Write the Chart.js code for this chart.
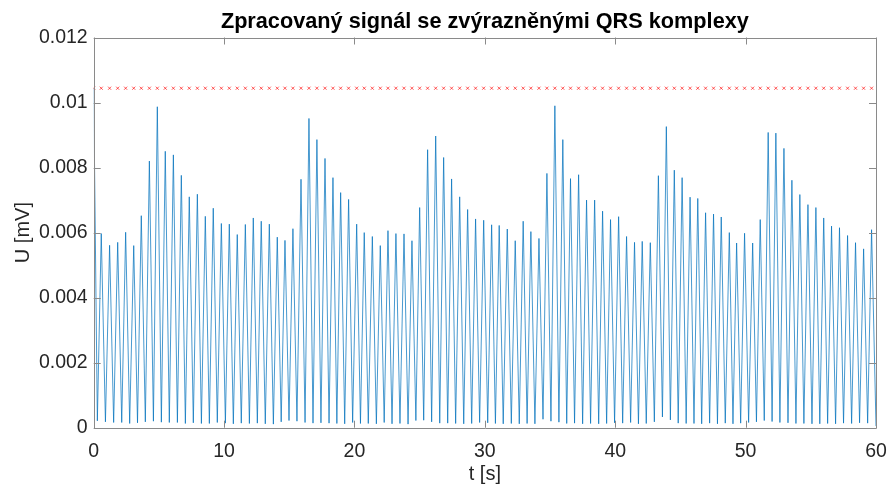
<!DOCTYPE html>
<html>
<head>
<meta charset="utf-8">
<script src="https://cdn.jsdelivr.net/npm/chart.js@4.4.1/dist/chart.umd.min.js"></script>
<style>
  html, body { margin: 0; padding: 0; background: #fff; }
  #wrap { width: 890px; height: 486px; }
</style>
</head>
<body>
<div id="wrap"><canvas id="signalChart" width="890" height="486"></canvas></div>
<script>
// values
const startPoint = { t: 0, u: 0.01044 };
const threshold = 0.01044;

const peakTimes = [
  0.58, 1.22, 1.84, 2.45, 3.07, 3.65, 4.27, 4.88, 5.49, 6.11, 6.72, 7.33, 7.95, 8.56, 9.17, 9.79,
  10.40, 11.01, 11.63, 12.24, 12.85, 13.47, 14.08, 14.67, 15.28, 15.90, 16.51, 17.12, 17.74, 18.35, 18.94, 19.55, 20.17,
  20.75, 21.37, 21.98, 22.57, 23.18, 23.80, 24.41, 25.00, 25.61, 26.23, 26.84, 27.45, 28.07, 28.68, 29.29, 29.91, 30.52,
  31.10, 31.72, 32.33, 32.94, 33.53, 34.15, 34.76, 35.37, 35.98, 36.57, 37.19, 37.80, 38.42, 39.03, 39.64, 40.26,
  40.87, 41.48, 42.07, 42.69, 43.31, 43.92, 44.53, 45.13, 45.74, 46.33, 46.93, 47.54, 48.13, 48.75, 49.31, 49.92, 50.54,
  51.12, 51.73, 52.32, 52.94, 53.55, 54.16, 54.78, 55.39, 55.99, 56.59, 57.20, 57.82, 58.43, 59.05, 59.66
];
const peakValues = [
  0.00597, 0.00561, 0.00570, 0.00601, 0.00560, 0.00652, 0.00820, 0.00987, 0.00850, 0.00839, 0.00776, 0.00710, 0.00718, 0.00650, 0.00675, 0.00628,
  0.00626, 0.00594, 0.00625, 0.00645, 0.00635, 0.00626, 0.00586, 0.00576, 0.00612, 0.00764, 0.00951, 0.00886, 0.00828, 0.00769, 0.00723, 0.00702, 0.00626,
  0.00600, 0.00588, 0.00560, 0.00606, 0.00597, 0.00596, 0.00575, 0.00677, 0.00855, 0.00897, 0.00831, 0.00765, 0.00710, 0.00671, 0.00642, 0.00638, 0.00624,
  0.00622, 0.00611, 0.00575, 0.00635, 0.00603, 0.00582, 0.00782, 0.00990, 0.00886, 0.00766, 0.00778, 0.00700, 0.00700, 0.00666, 0.00640, 0.00649,
  0.00588, 0.00570, 0.00573, 0.00569, 0.00775, 0.00926, 0.00792, 0.00769, 0.00709, 0.00705, 0.00661, 0.00657, 0.00648, 0.00600, 0.00568, 0.00598, 0.00568,
  0.00640, 0.00908, 0.00906, 0.00859, 0.00761, 0.00717, 0.00686, 0.00677, 0.00645, 0.00620, 0.00615, 0.00591, 0.00569, 0.00550, 0.00609
];
const troughTimes = [
  0.28, 0.90, 1.53, 2.15, 2.76, 3.36, 3.96, 4.58, 5.19, 5.80, 6.42, 7.03, 7.64, 8.26, 8.87, 9.48,
  10.10, 10.71, 11.32, 11.94, 12.55, 13.16, 13.78, 14.38, 14.98, 15.59, 16.21, 16.82, 17.43, 18.05, 18.65, 19.25, 19.86,
  20.46, 21.06, 21.68, 22.28, 22.88, 23.49, 24.11, 24.71, 25.31, 25.92, 26.54, 27.15, 27.76, 28.38, 28.99, 29.60, 30.22,
  30.81, 31.41, 32.03, 32.64, 33.24, 33.84, 34.46, 35.07, 35.68, 36.28, 36.88, 37.50, 38.11, 38.73, 39.34, 39.95,
  40.57, 41.18, 41.78, 42.38, 43.00, 43.62, 44.23, 44.83, 45.44, 46.04, 46.63, 47.24, 47.84, 48.44, 49.03, 49.62, 50.23,
  50.83, 51.43, 52.03, 52.63, 53.25, 53.86, 54.47, 55.09, 55.69, 56.29, 56.90, 57.51, 58.13, 58.74, 59.36,
  60.00
];
const troughValues = [
  0.00021, 0.00018, 0.00016, 0.00016, 0.00013, 0.00015, 0.00018, 0.00020, 0.00017, 0.00016, 0.00016, 0.00013, 0.00015, 0.00013, 0.00013, 0.00016,
  0.00014, 0.00012, 0.00014, 0.00013, 0.00014, 0.00012, 0.00011, 0.00018, 0.00022, 0.00020, 0.00016, 0.00014, 0.00015, 0.00014, 0.00013, 0.00012, 0.00016,
  0.00013, 0.00013, 0.00012, 0.00016, 0.00012, 0.00013, 0.00011, 0.00022, 0.00023, 0.00018, 0.00014, 0.00014, 0.00013, 0.00012, 0.00013, 0.00016, 0.00015,
  0.00013, 0.00012, 0.00013, 0.00012, 0.00013, 0.00012, 0.00026, 0.00020, 0.00017, 0.00013, 0.00014, 0.00012, 0.00013, 0.00012, 0.00013, 0.00015,
  0.00014, 0.00016, 0.00012, 0.00013, 0.00018, 0.00033, 0.00024, 0.00014, 0.00013, 0.00013, 0.00012, 0.00014, 0.00012, 0.00014, 0.00012, 0.00014, 0.00016,
  0.00018, 0.00022, 0.00019, 0.00016, 0.00015, 0.00013, 0.00013, 0.00012, 0.00012, 0.00013, 0.00012, 0.00014, 0.00013, 0.00015, 0.00014,
  0.00005
];

const xTicks = [0, 10, 20, 30, 40, 50, 60];
const yTicks = [0, 0.002, 0.004, 0.006, 0.008, 0.01, 0.012];

// signal: start, then trough / peak alternately, ending on a trough
const signal = [{ x: startPoint.t, y: startPoint.u }];
for (let i = 0; i < troughTimes.length; i++) {
  signal.push({ x: troughTimes[i], y: troughValues[i] });
  if (i < peakTimes.length) signal.push({ x: peakTimes[i], y: peakValues[i] });
}

// threshold marked at the start and at each peak
const thresholdPoints = [startPoint.t].concat(peakTimes).map(t => ({ x: t, y: threshold }));

const FONT = "'Liberation Sans', Arial, Helvetica, sans-serif";
const TEXT = '#262626';
const TITLE = 'Zpracovaný signál se zvýrazněnými QRS komplexy';

// MATLAB-like box with inward ticks, title centred over the axes
const boxPlugin = {
  id: 'boxPlugin',
  afterDatasetsDraw(chart) {
    const { ctx, chartArea: a, scales } = chart;
    const len = 7;
    ctx.save();
    ctx.strokeStyle = '#8a8a8a';
    ctx.lineWidth = 1;
    ctx.beginPath();
    ctx.rect(Math.round(a.left) + 0.5, Math.round(a.top) + 0.5,
             Math.round(a.right - a.left), Math.round(a.bottom - a.top));
    xTicks.forEach(v => {
      const px = Math.round(scales.x.getPixelForValue(v)) + 0.5;
      ctx.moveTo(px, a.bottom); ctx.lineTo(px, a.bottom - len);
      ctx.moveTo(px, a.top); ctx.lineTo(px, a.top + len);
    });
    yTicks.forEach(v => {
      const py = Math.round(scales.y.getPixelForValue(v)) + 0.5;
      ctx.moveTo(a.left, py); ctx.lineTo(a.left + len, py);
      ctx.moveTo(a.right, py); ctx.lineTo(a.right - len, py);
    });
    ctx.stroke();

    ctx.fillStyle = '#000';
    ctx.font = 'bold 21.7px ' + FONT;
    ctx.textAlign = 'center';
    ctx.textBaseline = 'alphabetic';
    ctx.fillText(TITLE, (a.left + a.right) / 2, 28.3);
    ctx.restore();
  }
};

new Chart(document.getElementById('signalChart'), {
  type: 'line',
  data: {
    datasets: [
      {
        data: signal,
        borderColor: 'rgba(0, 114, 189, 0.72)',
        borderWidth: 1,
        pointRadius: 0,
        tension: 0,
        order: 2
      },
      {
        data: thresholdPoints,
        showLine: false,
        pointStyle: 'crossRot',
        pointRadius: 2.2,
        borderColor: 'rgba(255, 0, 0, 0.65)',
        borderWidth: 1,
        order: 1
      }
    ]
  },
  options: {
    responsive: false,
    animation: false,
    devicePixelRatio: 1,
    layout: { padding: { left: 0, right: 14, top: 37.5, bottom: 0 } },
    plugins: {
      legend: { display: false },
      tooltip: { enabled: false },
      title: { display: false }
    },
    scales: {
      x: {
        type: 'linear',
        min: 0,
        max: 60,
        afterBuildTicks: s => { s.ticks = xTicks.map(v => ({ value: v })); },
        afterFit: s => { s.height = 58.3; s.paddingLeft = 0; s.paddingRight = 0; },
        grid: { display: false, drawTicks: false },
        border: { display: false },
        ticks: { color: TEXT, font: { family: FONT, size: 19.5 }, padding: 12, maxRotation: 0 },
        title: { display: true, text: 't [s]', color: TEXT, font: { family: FONT, size: 20 }, padding: { top: 2, bottom: 0 } }
      },
      y: {
        min: 0,
        max: 0.012,
        afterBuildTicks: s => { s.ticks = yTicks.map(v => ({ value: v })); },
        afterFit: s => { s.width = 93.7; s.paddingTop = 0; s.paddingBottom = 0; },
        grid: { display: false, drawTicks: false },
        border: { display: false },
        ticks: {
          color: TEXT,
          font: { family: FONT, size: 19.5 },
          padding: 6,
          callback: v => String(parseFloat(v.toFixed(3)))
        },
        title: { display: true, text: 'U [mV]', color: TEXT, font: { family: FONT, size: 20 }, padding: { top: 11, bottom: 0 } }
      }
    }
  },
  plugins: [boxPlugin]
});
</script>
</body>
</html>
